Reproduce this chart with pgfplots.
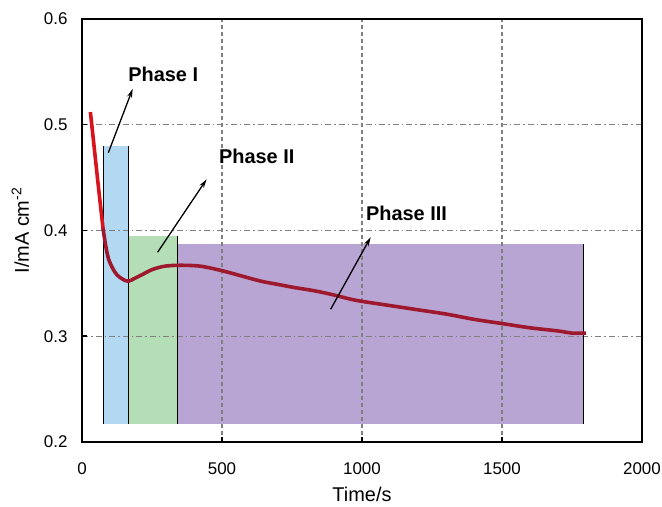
\documentclass[border=0pt]{standalone}
\usepackage{fontspec}
\setmainfont{Liberation Sans}
\usepackage{pgfplots}
\pgfplotsset{compat=1.18}
\usetikzlibrary{calc,arrows.meta}
\definecolor{cblue}{RGB}{179,217,242}
\definecolor{cgreen}{RGB}{180,222,182}
\definecolor{cpurple}{RGB}{184,165,212}
\definecolor{cred}{RGB}{215,20,30}
\definecolor{cdark}{RGB}{158,24,46}
\definecolor{cgrid}{RGB}{128,128,128}
\begin{document}
\begin{tikzpicture}
\begin{axis}[name=ax, set layers,
  scale only axis, width=560bp, height=423bp,
  xmin=0, xmax=2000, ymin=0.2, ymax=0.6,
  xtick={0,500,1000,1500,2000}, ytick={0.2,0.3,0.4,0.5,0.6},
  yticklabel style={/pgf/number format/fixed, /pgf/number format/fixed zerofill, /pgf/number format/precision=1, xshift=-11bp},
  xticklabel style={/pgf/number format/set thousands separator={}, yshift=-17bp},
  /pgf/number format/assume math mode=true,
  ticklabel style={font=\fontsize{17}{19}\selectfont},
  label style={font=\fontsize{20}{22}\selectfont},
  xlabel={Time/s}, ylabel={I/mA cm\textsuperscript{-2}},
  xlabel style={at={(axis description cs:0.5,-0.1405)}, anchor=base},
  ylabel style={at={(axis description cs:-0.11,0.5)}, anchor=center},
  tick pos=left, tick align=inside, major tick length=5bp,
  every tick/.style={black, line width=1.5bp},
  axis line style={black, line width=2.5bp},
  grid=major,
  x grid style={cgrid, line width=1.1bp, dash pattern=on 4bp off 3bp},
  y grid style={cgrid, line width=1.1bp, dash pattern=on 6bp off 3bp on 1.5bp off 3bp},
]
\addplot[on layer=axis background, fill=cblue, draw=none] coordinates {(76,0.217) (165,0.217) (165,0.480) (76,0.480)} --cycle;
\addplot[on layer=axis background, fill=cgreen, draw=none] coordinates {(165,0.217) (340,0.217) (340,0.395) (165,0.395)} --cycle;
\addplot[on layer=axis background, fill=cpurple, draw=none] coordinates {(340,0.217) (1790,0.217) (1790,0.387) (340,0.387)} --cycle;
\addplot[black, line width=1.3bp] coordinates {(76,0.217) (76,0.480)};
\addplot[black, line width=1.3bp] coordinates {(165,0.217) (165,0.480)};
\addplot[black, line width=1.3bp] coordinates {(340,0.217) (340,0.395)};
\addplot[black, line width=1.3bp] coordinates {(1790,0.217) (1790,0.387)};
\addplot[cred, line width=3.6bp, smooth] coordinates {
(30,0.512) (45,0.475) (60,0.438) (76,0.400)};
\addplot[cdark, line width=3.6bp, smooth] coordinates {
(75,0.402) (85,0.385) (95,0.373) (110,0.364) (125,0.358) (145,0.354) (165,0.352)
(190,0.355) (220,0.359) (250,0.363) (290,0.366) (330,0.367) (380,0.367) (430,0.366)
(500,0.362) (570,0.357) (640,0.352) (700,0.349) (760,0.346) (830,0.343) (900,0.339)
(960,0.335) (1000,0.333) (1100,0.329) (1200,0.325) (1300,0.321) (1400,0.316)
(1500,0.312) (1600,0.308) (1700,0.305) (1750,0.303) (1800,0.303)};
\draw[-{Stealth[length=9bp,width=5bp]}, line width=1.3bp] (axis cs:94,0.4735) -- (axis cs:181,0.534);
\draw[-{Stealth[length=9bp,width=5bp]}, line width=1.3bp] (axis cs:270,0.3794) -- (axis cs:445,0.4484);
\draw[-{Stealth[length=9bp,width=5bp]}, line width=1.3bp] (axis cs:888,0.3255) -- (axis cs:1031,0.3936);
\node[fill=white, inner sep=1bp, font=\bfseries\fontsize{20}{22}\selectfont] at (axis cs:290,0.548) {Phase I};
\node[fill=white, inner sep=1bp, font=\bfseries\fontsize{20}{22}\selectfont] at (axis cs:624,0.470) {Phase II};
\node[fill=white, inner sep=1bp, font=\bfseries\fontsize{20}{22}\selectfont] at (axis cs:1159,0.4163) {Phase III};
\end{axis}
\pgfresetboundingbox
\path ($(ax.south west)+(-82bp,-65bp)$) rectangle ($(ax.south west)+(580bp,442bp)$);
\end{tikzpicture}
\end{document}
